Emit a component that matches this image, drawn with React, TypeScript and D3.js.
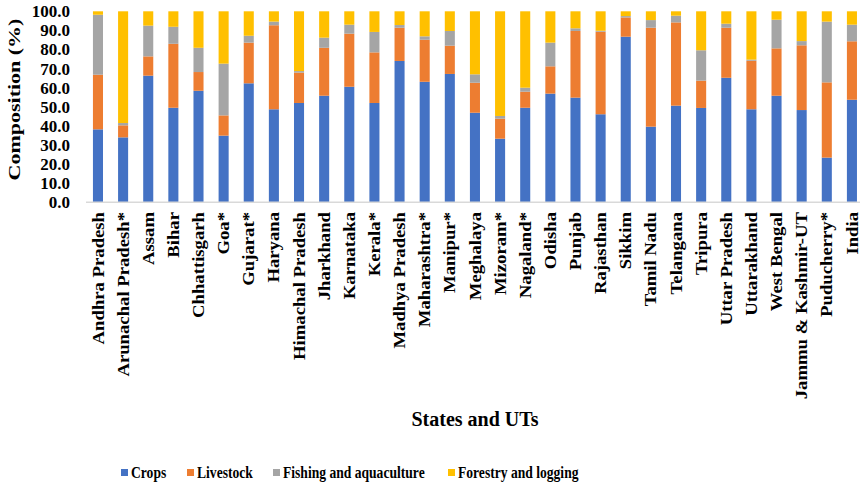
import React from "react";
import * as d3 from "d3";

const categories = [
  "Andhra Pradesh", "Arunachal Pradesh*", "Assam", "Bihar", "Chhattisgarh", "Goa*", "Gujarat*",
  "Haryana", "Himachal Pradesh", "Jharkhand", "Karnataka", "Kerala*", "Madhya Pradesh",
  "Maharashtra*", "Manipur*", "Meghalaya", "Mizoram*", "Nagaland*", "Odisha", "Punjab",
  "Rajasthan", "Sikkim", "Tamil Nadu", "Telangana", "Tripura", "Uttar Pradesh", "Uttarakhand",
  "West Bengal", "Jammu & Kashmir-UT", "Puducherry*", "India",
];

const crops = [38.2, 34.0, 66.3, 49.5, 58.4, 34.9, 62.3, 48.7, 52.0, 55.8, 60.5, 52.0, 74.0, 63.1, 67.2, 46.9, 33.3, 49.5, 56.9, 54.8, 46.1, 86.7, 39.6, 50.6, 49.4, 65.2, 48.7, 55.8, 48.3, 23.4, 53.7];
const livestock = [28.6, 6.3, 10.1, 33.5, 9.8, 10.6, 21.3, 44.0, 15.9, 25.1, 27.8, 26.5, 17.4, 22.0, 14.8, 15.7, 10.5, 8.4, 14.3, 34.9, 43.2, 10.1, 51.8, 43.6, 14.3, 26.2, 25.4, 24.8, 33.9, 39.4, 30.6];
const fishing = [31.4, 1.2, 16.1, 8.9, 12.7, 27.1, 3.6, 1.9, 0.8, 5.3, 4.7, 10.7, 1.4, 1.8, 7.7, 4.4, 1.4, 2.1, 12.4, 1.4, 0.5, 0.7, 4.0, 3.5, 15.9, 2.1, 0.6, 15.0, 2.2, 31.8, 8.7];
const forestry = [1.8, 58.5, 7.5, 8.1, 19.1, 27.4, 12.8, 5.4, 31.3, 13.8, 7.0, 10.8, 7.2, 13.1, 10.3, 33.0, 54.8, 40.0, 16.4, 8.9, 10.2, 2.5, 4.6, 2.3, 20.4, 6.5, 25.3, 4.4, 15.6, 5.4, 7.0];

const seriesNames = ["Crops", "Livestock", "Fishing and aquaculture", "Forestry and logging"];
const seriesColors = ["#4472C4", "#ED7D31", "#A5A5A5", "#FFC000"];
const yTicks = [0, 10, 20, 30, 40, 50, 60, 70, 80, 90, 100];

const W = 860;
const H = 485;
const FONT = "'Liberation Serif', 'Times New Roman', serif";
const tx: React.CSSProperties = { fontFamily: FONT, fontWeight: 700 };

export default function App() {
  const rows = categories.map((c, i) => ({
    cat: c,
    Crops: crops[i],
    Livestock: livestock[i],
    "Fishing and aquaculture": fishing[i],
    "Forestry and logging": forestry[i],
  }));
  const stack = d3.stack<any>().keys(seriesNames)(rows);

  const x = d3.scaleBand<string>().domain(categories).range([85.4, 864.5]).paddingInner(0.6).paddingOuter(0.3);
  const y = d3.scaleLinear().domain([0, 100]).range([202.3, 11.3]);

  const legendX = [121, 187, 273, 448];

  return (
    <svg width={W} height={H} style={{ position: "absolute", left: 0, top: 0, background: "#fff", fontFamily: FONT }}>
      {stack.map((s, si) => (
        <g key={si} fill={seriesColors[si]}>
          {s.map((d, i) => (
            <rect
              key={i}
              x={x(categories[i])!}
              width={x.bandwidth()}
              y={y(Math.min(d[1], 100))}
              height={Math.max(0, y(d[0]) - y(Math.min(d[1], 100)))}
            />
          ))}
        </g>
      ))}
      <line x1={86} x2={860} y1={y(0)} y2={y(0)} stroke="#d9d9d9" strokeWidth={1.5} />
      {yTicks.map((t) => (
        <text key={t} x={70} y={y(t)} dy="0.35em" textAnchor="end" fontSize={17} style={tx} fill="#000">
          {t.toFixed(1)}
        </text>
      ))}
      <text
        transform={`translate(14, 99.5) scale(0.75, 1) rotate(-90)`}
        dy="0.35em"
        textAnchor="middle"
        fontSize={22}
        style={tx}
      >
        Composition (%)
      </text>
      {categories.map((c) => (
        <text
          key={c}
          transform={`translate(${x(c)! + x.bandwidth() / 2}, 212) scale(0.85, 1) rotate(-90)`}
          dy="0.35em"
          textAnchor="end"
          fontSize={18.7}
          style={tx}
        >
          {c}
        </text>
      ))}
      <text x={475} y={426} textAnchor="middle" fontSize={20} style={tx}>
        States and UTs
      </text>
      {seriesNames.map((n, i) => (
        <g key={n} transform={`translate(${legendX[i]}, 472.5)`}>
          <rect x={0} y={-3.5} width={7} height={7} fill={seriesColors[i]} />
          <text transform="translate(10, 0) scale(0.8, 1)" dy="0.35em" fontSize={17} style={tx}>
            {n}
          </text>
        </g>
      ))}
    </svg>
  );
}
